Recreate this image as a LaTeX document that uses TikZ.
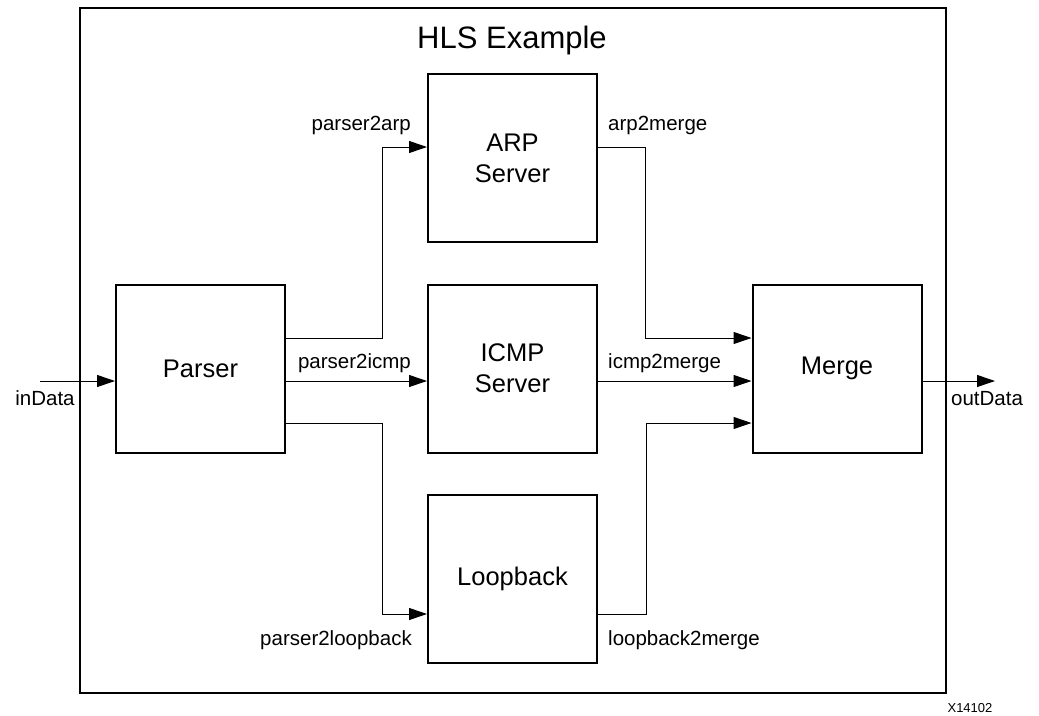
\documentclass[tikz,border=0pt]{standalone}
\usepackage{fontspec}
\setmainfont{Liberation Sans}
\usetikzlibrary{arrows.meta}
\begin{document}
\begin{tikzpicture}[x=1pt,y=-1pt,
  blk/.style={draw, line width=2pt, minimum width=169pt, minimum height=168pt, inner sep=0pt, align=center, font=\fontsize{25.5}{31}\selectfont},
  frm/.style={draw, line width=2pt, minimum width=866pt, minimum height=685pt, inner sep=0pt},
  conn/.style={line width=1pt, -{Triangle[length=18pt,width=12pt]}},
  lbl/.style={font=\fontsize{20.5}{24}\selectfont, inner sep=0pt},
  ttl/.style={font=\fontsize{31}{35}\selectfont, inner sep=0pt},
  tag/.style={font=\fontsize{13}{15}\selectfont, inner sep=0pt}]
\useasboundingbox (0,0) rectangle (1039,715);
\node[frm] (frame) at (513,350.5) {};
\node[ttl, anchor=base] (title) at (512,48) {HLS Example};
\node[blk] (parser) at (200.5,368.5) {Parser};
\node[blk] (arp) at (512.5,158) {ARP\\Server};
\node[blk] (icmp) at (512.5,368.5) {ICMP\\Server};
\node[blk] (loop) at (512.5,579) {Loopback};
\node[blk] (merge) at (837,368.5) {Merge};
\coordinate (in) at (40,381);
\coordinate (out) at (995,381);
\draw[conn] (in) -- ([yshift=-12.5pt]parser.west);
\draw[conn] ([yshift=30.5pt]parser.east) -- ++(96,0) |- ([yshift=11pt]arp.west);
\draw[conn] ([yshift=-12.5pt]parser.east) -- ([yshift=-12.5pt]icmp.west);
\draw[conn] ([yshift=-54.5pt]parser.east) -- ++(96,0) |- ([yshift=-35pt]loop.west);
\draw[conn] ([yshift=11pt]arp.east) -- ++(47,0) |- ([yshift=30.5pt]merge.west);
\draw[conn] ([yshift=-12.5pt]icmp.east) -- ([yshift=-12.5pt]merge.west);
\draw[conn] ([yshift=-35pt]loop.east) -- ++(48,0) |- ([yshift=-54.5pt]merge.west);
\draw[conn] ([yshift=-12.5pt]merge.east) -- (out);
\node[lbl, anchor=base] (lin) at (45,405) {inData};
\node[lbl, anchor=base] (lout) at (987,405) {outData};
\node[lbl, anchor=base east] (l1) at (411,130) {parser2arp};
\node[lbl, anchor=base west] (l2) at (608,130) {arp2merge};
\node[lbl, anchor=base east] (l3) at (411,368) {parser2icmp};
\node[lbl, anchor=base west] (l4) at (608,368) {icmp2merge};
\node[lbl, anchor=base east] (l5) at (412,645) {parser2loopback};
\node[lbl, anchor=base west] (l6) at (608,645) {loopback2merge};
\node[tag, anchor=base] (x) at (970,712) {X14102};
\end{tikzpicture}
\end{document}
